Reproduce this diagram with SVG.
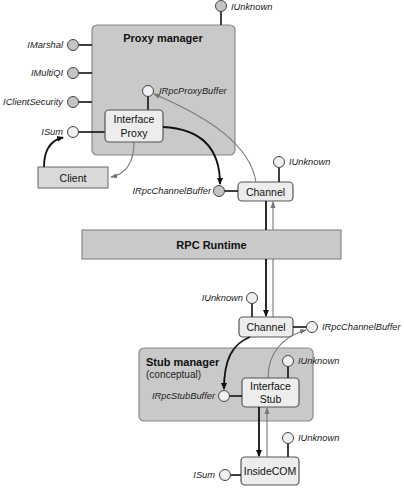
<svg xmlns="http://www.w3.org/2000/svg" width="404" height="488" viewBox="0 0 404 488">
<style>
.mgr{fill:#c9c9c9;stroke:#8a8a8a;stroke-width:1.2}
.box{fill:#ededed;stroke:#555;stroke-width:1.2}
.gbox{fill:#d9d9d9;stroke:#666;stroke-width:1}
.lol{fill:#c4c4c4;stroke:#444;stroke-width:1}
.lolw{fill:#f0f0f0;stroke:#444;stroke-width:1}
.stick{stroke:#111;stroke-width:1.6;fill:none}
.lbl{font-family:"Liberation Sans",Arial,sans-serif;font-style:italic;font-size:9.3px;fill:#222}
.t{font-family:"Liberation Sans",Arial,sans-serif;font-size:10.5px;fill:#111;text-anchor:middle}
.b{font-family:"Liberation Sans",Arial,sans-serif;font-weight:bold;font-size:11px;fill:#111}
.blk{stroke:#111;stroke-width:1.8;fill:none}
.gry{stroke:#777;stroke-width:1.1;fill:none}
</style>
<defs>
<marker id="ab" markerWidth="8" markerHeight="8" refX="6" refY="4" orient="auto" markerUnits="userSpaceOnUse">
<path d="M0,1 L7,4 L0,7 Z" fill="#111"/>
</marker>
<marker id="ag" markerWidth="8" markerHeight="8" refX="6" refY="4" orient="auto" markerUnits="userSpaceOnUse">
<path d="M0,1.5 L7,4 L0,6.5 Z" fill="#777"/>
</marker>
</defs>

<g id="proxy-manager">
<rect class="mgr" x="92" y="25" width="143" height="130" rx="5"/>
<text class="b" x="163" y="42" text-anchor="middle">Proxy manager</text>
</g>

<g id="iunknown-proxy">
<line class="stick" x1="221" y1="11.5" x2="221" y2="25"/>
<circle class="lol" cx="221" cy="6" r="5.5"/>
<text class="lbl" x="231" y="9.5">IUnknown</text>
</g>
<g id="imarshal">
<line class="stick" x1="78.5" y1="45" x2="92" y2="45"/>
<circle class="lol" cx="73" cy="45" r="5.5"/>
<text class="lbl" x="63" y="48" text-anchor="end">IMarshal</text>
</g>
<g id="imultiqi">
<line class="stick" x1="78.5" y1="73" x2="92" y2="73"/>
<circle class="lol" cx="73" cy="73" r="5.5"/>
<text class="lbl" x="63" y="76" text-anchor="end">IMultiQI</text>
</g>
<g id="iclientsecurity">
<line class="stick" x1="78.5" y1="102" x2="92" y2="102"/>
<circle class="lol" cx="73" cy="102" r="5.5"/>
<text class="lbl" x="63" y="105" text-anchor="end">IClientSecurity</text>
</g>
<g id="isum-proxy">
<line class="stick" x1="78.5" y1="132" x2="105" y2="132"/>
<circle class="lolw" cx="73" cy="132" r="5.5"/>
<text class="lbl" x="63" y="135" text-anchor="end">ISum</text>
</g>
<g id="irpcproxybuffer">
<line class="stick" x1="148" y1="96.5" x2="148" y2="110"/>
<circle class="lolw" cx="148" cy="91" r="5.5"/>
<text class="lbl" x="159" y="94">IRpcProxyBuffer</text>
</g>
<g id="interface-proxy">
<rect class="box" x="105" y="110" width="58" height="32" rx="4"/>
<text class="t" x="134" y="123">Interface</text>
<text class="t" x="134" y="137">Proxy</text>
</g>
<g id="client">
<rect class="gbox" x="38" y="167" width="70" height="21"/>
<text class="t" x="73" y="181.5">Client</text>
</g>

<g id="channel-1">
<rect class="box" x="238" y="182" width="55" height="19" rx="4"/>
<text class="t" x="265.5" y="195.5">Channel</text>
</g>
<g id="iunknown-channel1">
<line class="stick" x1="279" y1="167.5" x2="279" y2="182"/>
<circle class="lolw" cx="279" cy="162" r="5.5"/>
<text class="lbl" x="289" y="165">IUnknown</text>
</g>
<g id="irpcchannelbuffer-1">
<line class="stick" x1="224.5" y1="191" x2="238" y2="191"/>
<circle class="lol" cx="219" cy="191" r="5.5"/>
<text class="lbl" x="211" y="194" text-anchor="end">IRpcChannelBuffer</text>
</g>

<g id="rpc-runtime">
<rect class="mgr" x="82" y="230" width="259" height="29"/>
<text class="b" x="211.5" y="249" text-anchor="middle">RPC Runtime</text>
</g>

<g id="channel-2">
<rect class="box" x="239" y="317" width="54" height="20" rx="4"/>
<text class="t" x="266" y="331">Channel</text>
</g>
<g id="iunknown-channel2">
<line class="stick" x1="252" y1="303.5" x2="252" y2="317"/>
<circle class="lolw" cx="252" cy="298" r="5.5"/>
<text class="lbl" x="243" y="301" text-anchor="end">IUnknown</text>
</g>
<g id="irpcchannelbuffer-2">
<line class="stick" x1="293" y1="327" x2="306.5" y2="327"/>
<circle class="lolw" cx="312" cy="327" r="5.5"/>
<text class="lbl" x="322" y="330">IRpcChannelBuffer</text>
</g>

<g id="stub-manager">
<rect class="mgr" x="139" y="348" width="174" height="73" rx="5"/>
<text class="b" x="146" y="366">Stub manager</text>
<text class="lbl" x="146" y="378" style="font-style:normal;font-size:10px">(conceptual)</text>
</g>
<g id="interface-stub">
<rect class="box" x="242" y="378" width="57" height="29" rx="4"/>
<text class="t" x="270.5" y="390">Interface</text>
<text class="t" x="270.5" y="403">Stub</text>
</g>
<g id="irpcstubbuffer">
<line class="stick" x1="229.5" y1="396" x2="242" y2="396"/>
<circle class="lolw" cx="224" cy="396" r="5.5"/>
<text class="lbl" x="215" y="399" text-anchor="end">IRpcStubBuffer</text>
</g>
<g id="iunknown-stub">
<line class="stick" x1="288" y1="366.5" x2="288" y2="378"/>
<circle class="lolw" cx="288" cy="361" r="5.5"/>
<text class="lbl" x="298" y="364">IUnknown</text>
</g>

<g id="insidecom">
<rect class="box" x="241" y="457" width="58" height="28" rx="4"/>
<text class="t" x="270" y="475">InsideCOM</text>
</g>
<g id="iunknown-insidecom">
<line class="stick" x1="288" y1="443.5" x2="288" y2="457"/>
<circle class="lolw" cx="288" cy="438" r="5.5"/>
<text class="lbl" x="298" y="441">IUnknown</text>
</g>
<g id="isum-insidecom">
<line class="stick" x1="230.5" y1="475" x2="241" y2="475"/>
<circle class="lolw" cx="225" cy="475" r="5.5"/>
<text class="lbl" x="215" y="478" text-anchor="end">ISum</text>
</g>

<g id="connectors">
<path class="blk" d="M44,167 C44,148 52,140 63,137.5" marker-end="url(#ab)"/>
<path class="gry" d="M134,142 C134,162 126,174 111,177" marker-end="url(#ag)"/>
<path class="blk" d="M163,127 C203,129 220,150 220,184" marker-end="url(#ab)"/>
<path class="gry" d="M256,182 C250,145 210,118 154,94" marker-end="url(#ag)"/>
<path class="blk" d="M266,201 L266,230"/>
<path class="blk" d="M266,259 L266,316" marker-end="url(#ab)"/>
<path class="gry" d="M273,317 L273,259"/>
<path class="gry" d="M273,230 L273,202" marker-end="url(#ag)"/>
<path class="blk" d="M250,337 C232,344 224,360 224,389" marker-end="url(#ab)"/>
<path class="gry" d="M268,378 C268,352 284,336 306,330" marker-end="url(#ag)"/>
<path class="blk" d="M259,407 L259,456" marker-end="url(#ab)"/>
<path class="gry" d="M267,457 L267,408" marker-end="url(#ag)"/>
</g>
</svg>
